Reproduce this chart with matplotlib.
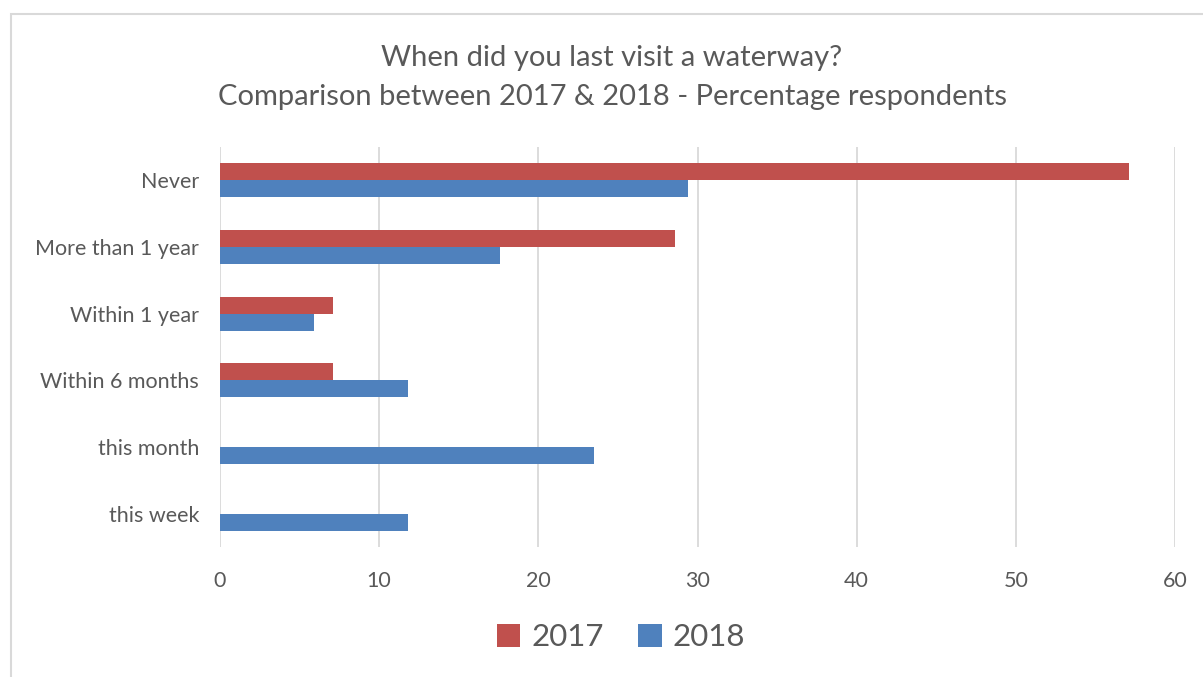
import matplotlib
matplotlib.use("Agg")
import matplotlib.pyplot as plt
import numpy as np
from matplotlib.patches import Rectangle

categories = ["Never", "More than 1 year", "Within 1 year",
              "Within 6 months", "this month", "this week"]
values_2017 = [57.1, 28.6, 7.1, 7.1, 0, 0]
values_2018 = [29.4, 17.6, 5.9, 11.8, 23.5, 11.8]
series_names = ["2017", "2018"]
x_ticks = [0, 10, 20, 30, 40, 50, 60]

red = "#C0504D"
blue = "#4F81BD"
text_col = "#595959"
grid_col = "#D9D9D9"

plt.rcParams["font.family"] = ["Lato", "DejaVu Sans"]

fig = plt.figure(figsize=(12.03, 6.77), dpi=100)
# chart border runs off the right and bottom edges
fig.patches.append(Rectangle((11 / 1203, -0.05), 1.1, 1.05 - 14 / 677, transform=fig.transFigure,
                             fill=False, edgecolor=grid_col, linewidth=1.5))

ax = fig.add_axes([220 / 1203, 1 - 547 / 677, 955 / 1203, 400 / 677])

y = np.arange(len(categories))
h = 0.255
ax.barh(y - h / 2, values_2017, height=h, color=red, label=series_names[0], zorder=3)
ax.barh(y + h / 2, values_2018, height=h, color=blue, label=series_names[1], zorder=3)

ax.set_ylim(len(categories) - 0.5, -0.5)
ax.set_xlim(0, 60)
ax.set_xticks(x_ticks)
ax.set_yticks(y)
ax.set_yticklabels(categories)
ax.tick_params(axis="both", length=0, labelsize=15.5, colors=text_col)
ax.tick_params(axis="x", pad=17)
ax.tick_params(axis="y", pad=15)
ax.xaxis.grid(True, color=grid_col, linewidth=1.3, zorder=0)
for s in ax.spines.values():
    s.set_visible(False)

fig.text(612 / 1203, 1 - 58 / 677, "When did you last visit a waterway?", ha="center", va="center",
         fontsize=21, color=text_col)
fig.text(612 / 1203, 1 - 97 / 677, "Comparison between 2017 & 2018 - Percentage respondents",
         ha="center", va="center", fontsize=21, color=text_col)

leg = fig.legend(loc="center", bbox_to_anchor=(621 / 1203, 1 - 637 / 677), ncol=2,
                 frameon=False, fontsize=22.5, handlelength=0.75, handleheight=0.75,
                 handletextpad=0.35, columnspacing=1.1)
for t in leg.get_texts():
    t.set_color(text_col)

fig.savefig("out.png", dpi=100)
